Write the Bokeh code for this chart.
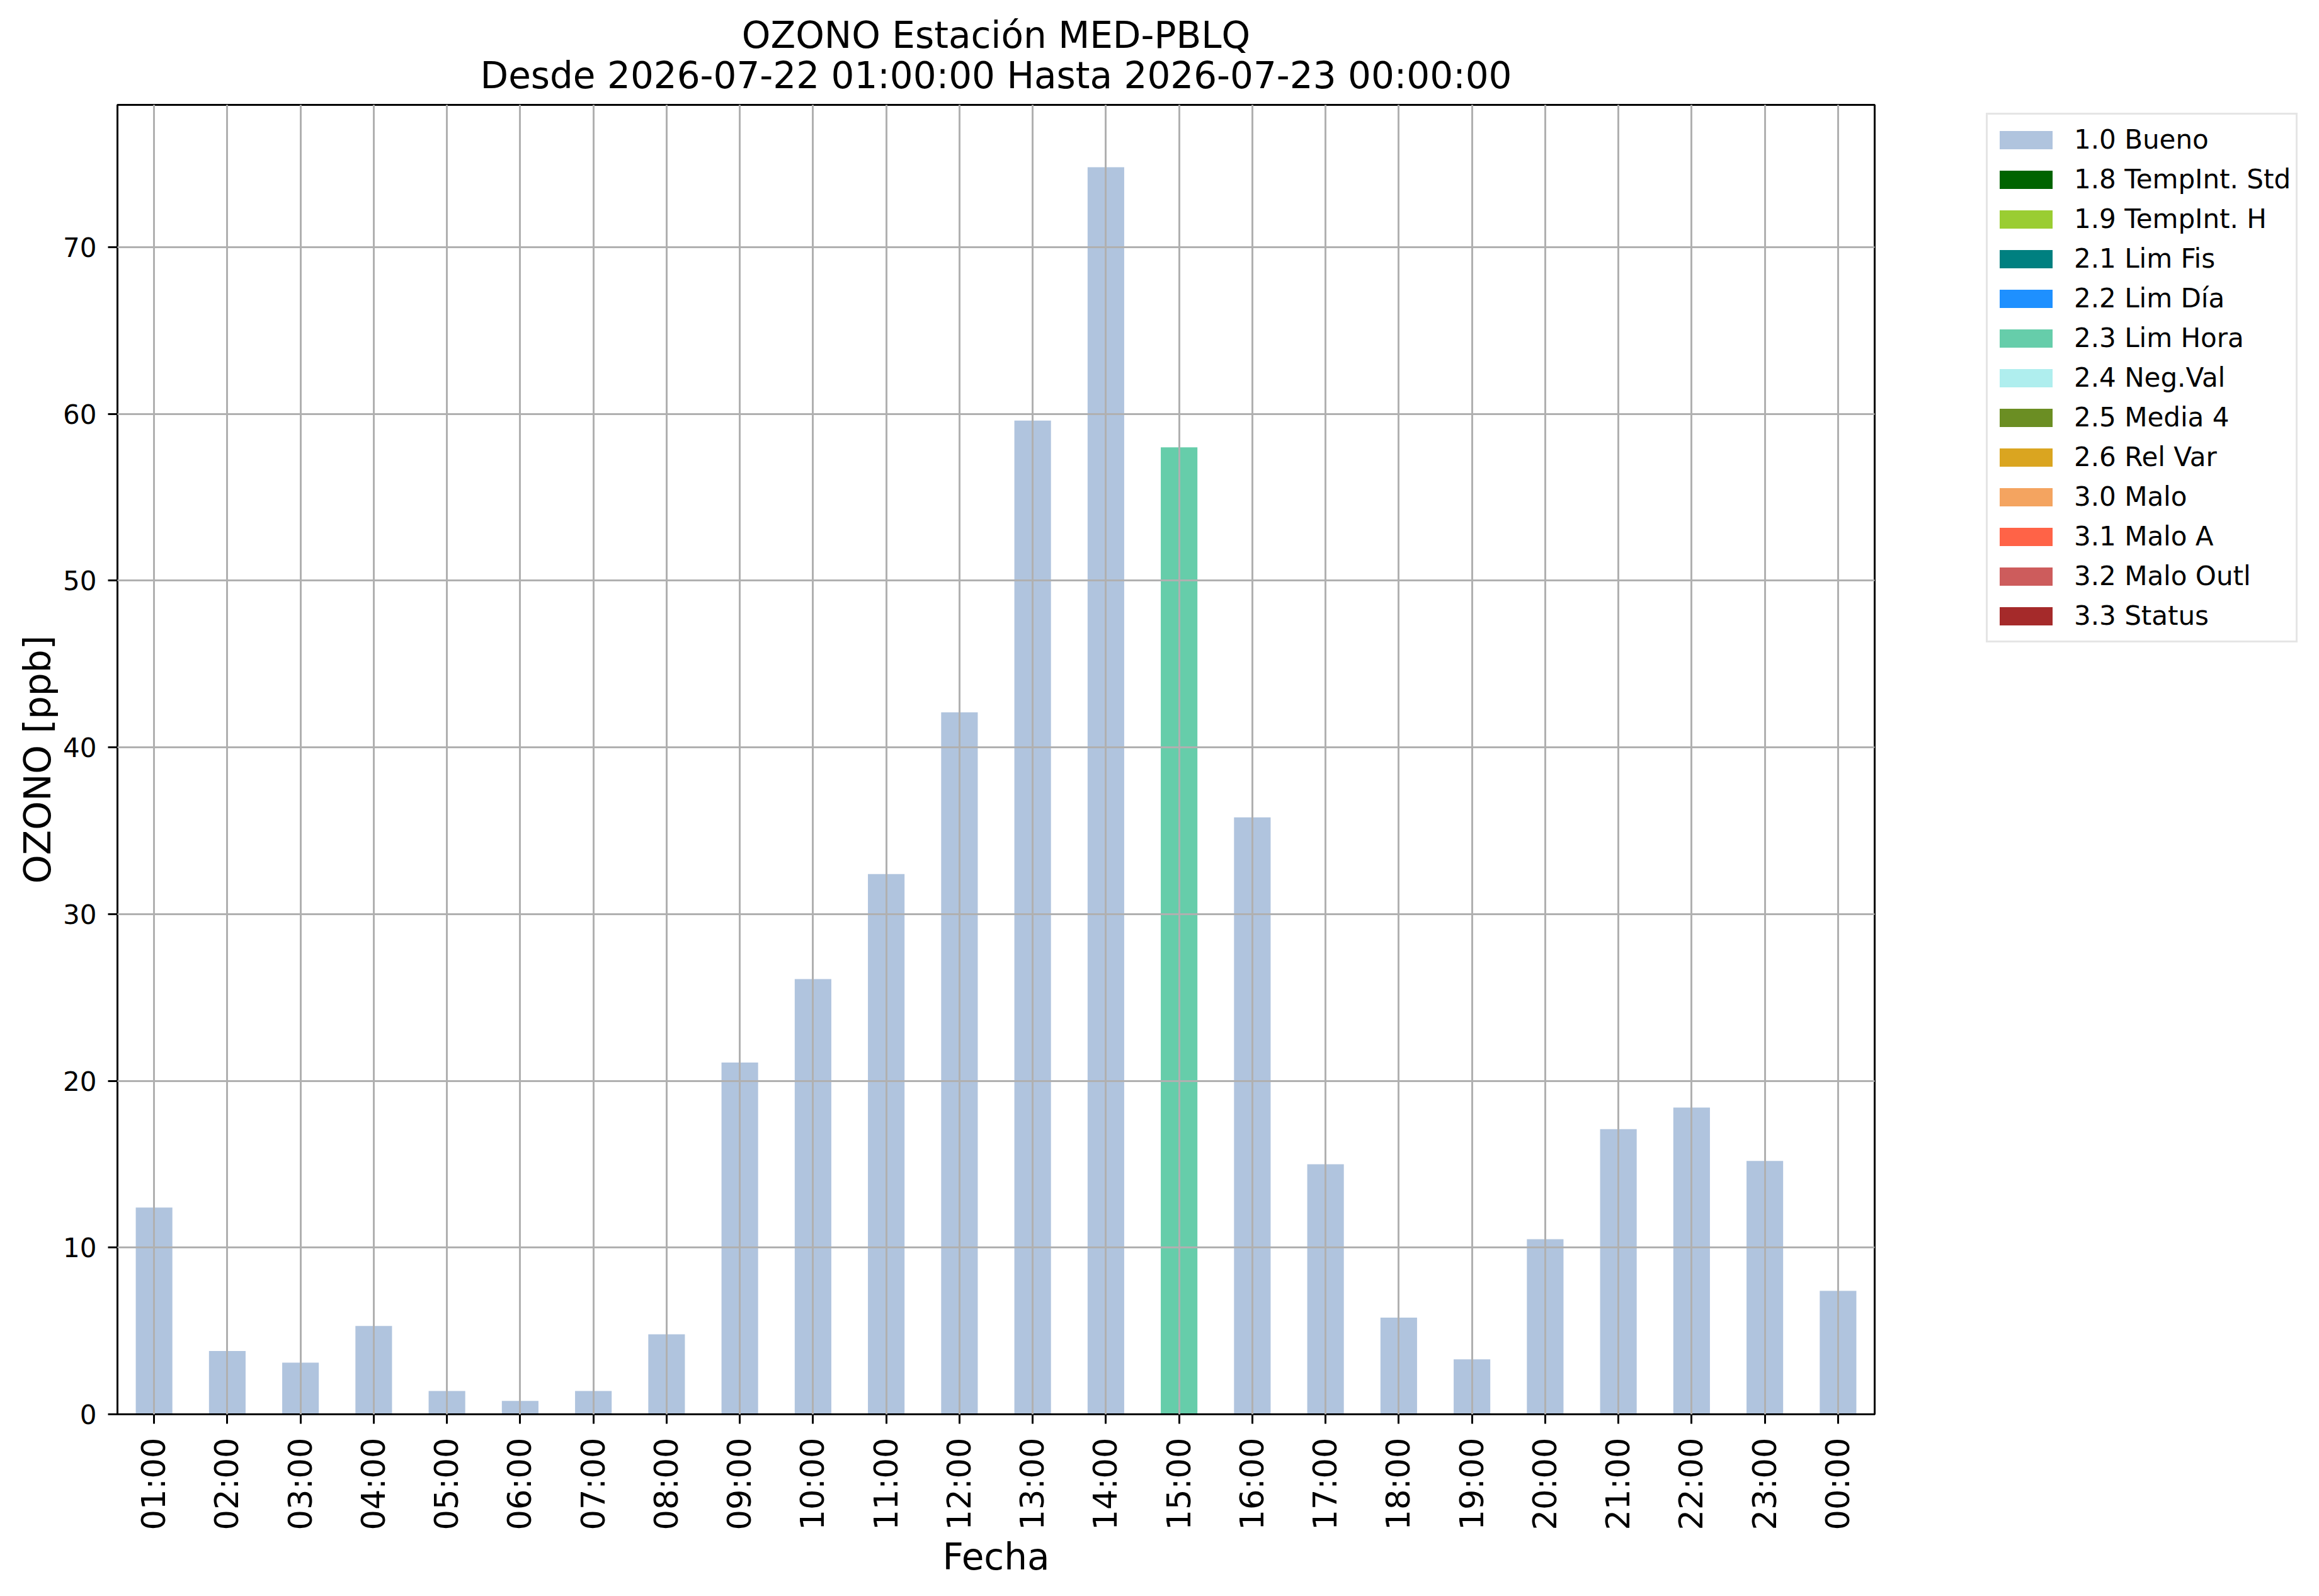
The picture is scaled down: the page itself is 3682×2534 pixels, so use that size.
from bokeh.plotting import figure
from bokeh.layouts import row
from bokeh.models import (ColumnDataSource, FactorRange, Range1d, Legend, LegendItem,
                          Title, FixedTicker)
from bokeh.embed import file_html
from bokeh.resources import INLINE
import math

# ---------------- data ----------------
hours = ["01:00", "02:00", "03:00", "04:00", "05:00", "06:00", "07:00", "08:00",
         "09:00", "10:00", "11:00", "12:00", "13:00", "14:00", "15:00", "16:00",
         "17:00", "18:00", "19:00", "20:00", "21:00", "22:00", "23:00", "00:00"]
ozone = [12.4, 3.8, 3.1, 5.3, 1.4, 0.8, 1.4, 4.8,
         21.1, 26.1, 32.4, 42.1, 59.6, 74.8, 58.0, 35.8,
         15.0, 5.8, 3.3, 10.5, 17.1, 18.4, 15.2, 7.4]
flags = ["1.0 Bueno"] * 14 + ["2.3 Lim Hora"] + ["1.0 Bueno"] * 9

flag_labels = ["1.0 Bueno", "1.8 TempInt. Std", "1.9 TempInt. H", "2.1 Lim Fis",
               "2.2 Lim Día", "2.3 Lim Hora", "2.4 Neg.Val", "2.5 Media 4",
               "2.6 Rel Var", "3.0 Malo", "3.1 Malo A", "3.2 Malo Outl", "3.3 Status"]
flag_colors = ["#B0C4DE", "#006400", "#9ACD32", "#008080", "#1E90FF", "#66CDAA",
               "#AFEEEE", "#6B8E23", "#DAA520", "#F4A460", "#FF6347", "#CD5C5C", "#A52A2A"]

y_ticks = [0, 10, 20, 30, 40, 50, 60, 70]
title_line1 = "OZONO Estación MED-PBLQ"
title_line2 = "Desde 2026-07-22 01:00:00 Hasta 2026-07-23 00:00:00"
x_title = "Fecha"
y_title = "OZONO [ppb]"

# ---------------- layout ----------------
FONT = "DejaVu Sans"
W, H = 3666, 2518
BL, BT, FW, FH = 186, 166, 2790, 2079
BR = 10
BB = H - BT - FH
W1 = BL + FW + BR          # main figure width
W2 = W - W1                # legend figure width

p = figure(width=W1, height=H, output_backend="svg", toolbar_location=None,
           title=None,
           x_range=FactorRange(factors=hours, range_padding=0),
           y_range=Range1d(0, max(ozone) * 1.05),
           min_border_left=BL, min_border_right=BR,
           min_border_top=BT, min_border_bottom=BB,
           background_fill_color="white", border_fill_color="white")

p.outline_line_color = "black"
p.outline_line_width = 3

for lab, col in zip(flag_labels, flag_colors):
    xs = [h for h, f in zip(hours, flags) if f == lab]
    ys = [v for v, f in zip(ozone, flags) if f == lab]
    src = ColumnDataSource(data=dict(x=xs, top=ys))
    p.vbar(x="x", top="top", bottom=0, width=0.5, source=src,
           fill_color=col, line_color=None)

# grid on top of bars
for g in (p.xgrid, p.ygrid):
    g.grid_line_color = "#b0b0b0"
    g.grid_line_width = 3
    g.level = "annotation"

# axes
for ax in (p.xaxis, p.yaxis):
    ax.axis_line_color = "black"
    ax.axis_line_width = 3
    ax.major_tick_line_color = "black"
    ax.major_tick_line_width = 3
    ax.major_tick_in = 0
    ax.major_tick_out = 15
    ax.minor_tick_line_color = None
    ax.major_label_text_font = FONT
    ax.major_label_text_color = "black"
    ax.axis_label_text_font = FONT
    ax.axis_label_text_font_style = "normal"
    ax.axis_label_text_font_size = "58px"
    ax.axis_label_text_color = "black"

p.yaxis.ticker = FixedTicker(ticks=y_ticks)
p.yaxis.major_label_text_font_size = "42px"
p.yaxis.major_label_standoff = 18
p.yaxis.axis_label = y_title
p.yaxis.axis_label_standoff = 3

p.xaxis.major_label_text_font_size = "51px"
p.xaxis.major_label_orientation = math.pi / 2
p.xaxis.major_label_standoff = 22
p.xaxis.axis_label = x_title
p.xaxis.axis_label_standoff = 6

# title lines: first added sits next to the frame
p.add_layout(Title(text=title_line2, align="center", text_font=FONT,
                   text_font_size="58px", text_font_style="normal",
                   text_color="black", standoff=26), "above")
p.add_layout(Title(text=title_line1, align="center", text_font=FONT,
                   text_font_size="58px", text_font_style="normal",
                   text_color="black", standoff=-38), "above")

# ---------------- legend panel ----------------
# proxies for the legend swatches: the same values placed by index, kept far
# outside this panel's visible ranges so only the legend shows
idx = list(range(len(hours)))
q = figure(width=W2, height=H, output_backend="svg", toolbar_location=None,
           title=None, x_axis_type=None, y_axis_type=None,
           x_range=Range1d(-1000, -999), y_range=Range1d(-1000, -999),
           min_border=0, min_border_left=0, min_border_right=0,
           min_border_top=0, min_border_bottom=0,
           background_fill_color="white", border_fill_color="white")
q.outline_line_color = None

proxy_src = ColumnDataSource(data=dict(x=idx, top=ozone))
items = []
for lab, col in zip(flag_labels, flag_colors):
    r = q.vbar(x="x", top="top", bottom="top", width=0.5, source=proxy_src,
               fill_color=col, line_color=None)
    items.append(LegendItem(label=lab, renderers=[r]))

# the legend frame is aligned with the main frame (top 166, bottom 2245 on page)
LEG_LEFT, LEG_BOTTOM = 3153, 1020   # page position of legend box
legend = Legend(items=items,
                location=(LEG_LEFT - W1, (BT + FH) - LEG_BOTTOM),
                orientation="vertical",
                label_text_font=FONT, label_text_font_size="42px",
                label_text_color="black",
                glyph_width=105, glyph_height=36,
                label_height=63, spacing=0, padding=8, margin=0,
                label_standoff=24,
                border_line_color="#cccccc", border_line_width=3,
                background_fill_color="white", background_fill_alpha=0.8)
q.add_layout(legend, "center")

layout = row(p, q, spacing=0)
open("out.html", "w").write(file_html(layout, INLINE))
